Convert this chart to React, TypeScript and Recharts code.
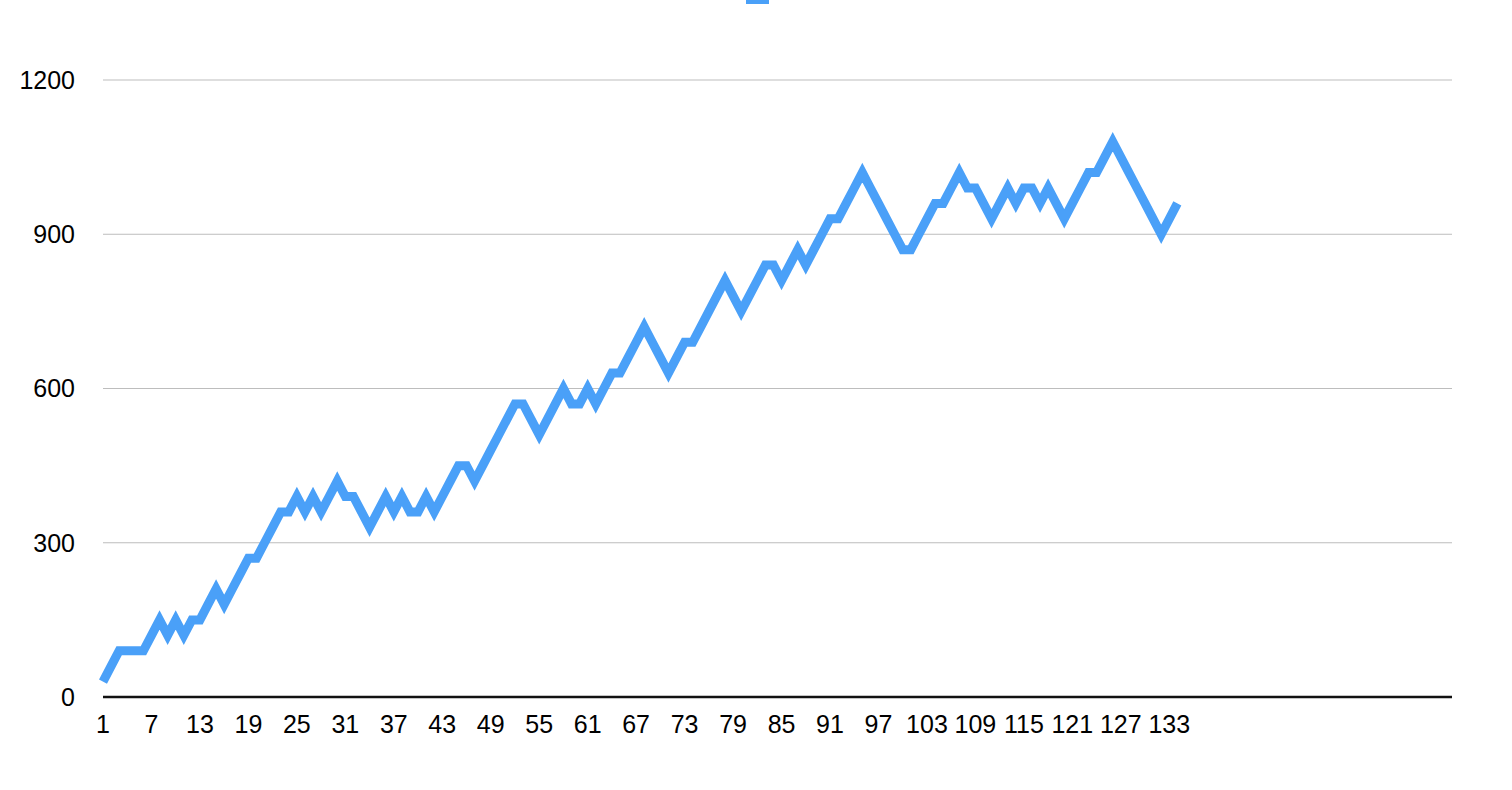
import React from "react";
import {
  LineChart,
  Line,
  XAxis,
  YAxis,
  CartesianGrid,
  Legend,
} from "recharts";

// one value per game (steps of 30)
const scores: number[] = [
  30, 60, 90, 90, 90, 90, 120, 150, 120, 150,
  120, 150, 150, 180, 210, 180, 210, 240, 270, 270,
  300, 330, 360, 360, 390, 360, 390, 360, 390, 420,
  390, 390, 360, 330, 360, 390, 360, 390, 360, 360,
  390, 360, 390, 420, 450, 450, 420, 450, 480, 510,
  540, 570, 570, 540, 510, 540, 570, 600, 570, 570,
  600, 570, 600, 630, 630, 660, 690, 720, 690, 660,
  630, 660, 690, 690, 720, 750, 780, 810, 780, 750,
  780, 810, 840, 840, 810, 840, 870, 840, 870, 900,
  930, 930, 960, 990, 1020, 990, 960, 930, 900, 870,
  870, 900, 930, 960, 960, 990, 1020, 990, 990, 960,
  930, 960, 990, 960, 990, 990, 960, 990, 960, 930,
  960, 990, 1020, 1020, 1050, 1080, 1050, 1020, 990, 960,
  930, 900, 930, 960,
];

// the category axis runs on past the last value, with blank labels
const slotCount = 168;
const yTicks = [0, 300, 600, 900, 1200];

const rows = Array.from({ length: slotCount }, (_, i) => ({
  slot: i + 1,
  score: i < scores.length ? scores[i] : null,
}));

const BLUE = "#4AA0F8";
const FONT = "'Liberation Sans', Arial, Helvetica, sans-serif";

const LegendSwatch = () => (
  <div style={{ width: 23, height: 23, backgroundColor: BLUE }} />
);

export default function App() {
  return (
    <div style={{ position: "absolute", left: 0, top: 0, background: "#fff" }}>
      <LineChart
        width={1512}
        height={790}
        data={rows}
        margin={{ top: 80, right: 60, bottom: 0, left: 0 }}
      >
        <CartesianGrid
          vertical={false}
          stroke="#bdbdbd"
          strokeWidth={1}
        />
        <XAxis
          dataKey="slot"
          type="category"
          interval={5}
          height={93}
          tickSize={0}
          tickMargin={18}
          tickLine={false}
          axisLine={{ stroke: "#111", strokeWidth: 2.5 }}
          tick={{ fontSize: 25, fill: "#000", fontFamily: FONT }}
          tickFormatter={(v: number) => (v <= scores.length ? String(v) : "")}
        />
        <YAxis
          width={103}
          domain={[0, 1200]}
          ticks={yTicks}
          tickSize={0}
          tickMargin={28}
          tickLine={false}
          axisLine={false}
          tick={{ fontSize: 25, fill: "#000", fontFamily: FONT }}
        />
        <Legend
          layout="horizontal"
          verticalAlign="middle"
          align="center"
          content={<LegendSwatch />}
          wrapperStyle={{ top: -19, left: 746, width: 23, height: 23 }}
        />
        <Line
          type="linear"
          dataKey="score"
          stroke={BLUE}
          strokeWidth={9}
          strokeLinejoin="miter"
          strokeLinecap="butt"
          dot={false}
          activeDot={false}
          isAnimationActive={false}
        />
      </LineChart>
    </div>
  );
}
